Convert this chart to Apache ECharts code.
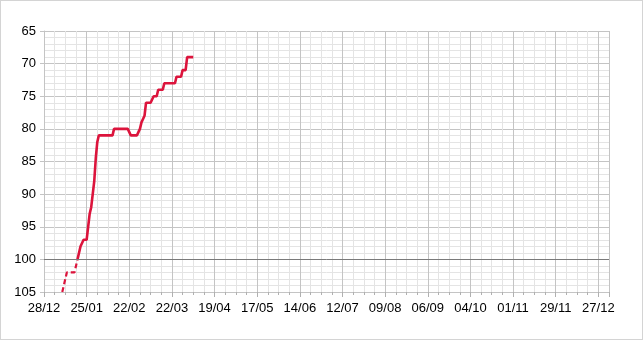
<!DOCTYPE html>
<html>
<head>
<meta charset="utf-8">
<script src="https://cdn.jsdelivr.net/npm/echarts@6/dist/echarts.min.js"></script>
<style>
html,body{margin:0;padding:0;background:#fff;}
#c{width:643px;height:340px;box-sizing:border-box;border:1px solid #d4d4d4;}
</style>
</head>
<body>
<div id="c"></div>
<script>
// Base date of the x axis (day 0) and tick settings
var baseDate = '2014-12-28';
var xTickDays = 28;
var xMaxDays = 371;
var yTicks = [65, 70, 75, 80, 85, 90, 95, 100, 105];
var refLine = 100;

// Dashed (early) segment
var dashedDates = ['2015-01-09','2015-01-10','2015-01-12','2015-01-17','2015-01-19'];
var dashedValues = [105, 104, 102, 102, 100];

// Solid segment
var solidDates = ['2015-01-19','2015-01-21','2015-01-22','2015-01-23','2015-01-25','2015-01-26','2015-01-27',
  '2015-01-28','2015-01-29','2015-01-30','2015-01-31','2015-02-01','2015-02-02','2015-02-11','2015-02-12',
  '2015-02-21','2015-02-23','2015-02-27','2015-03-01','2015-03-02','2015-03-04','2015-03-05','2015-03-08',
  '2015-03-10','2015-03-12','2015-03-13','2015-03-16','2015-03-17','2015-03-24','2015-03-25','2015-03-28',
  '2015-03-29','2015-03-31','2015-04-01','2015-04-05'];
var solidValues = [100, 98, 98, 97, 97, 95, 93, 92, 90, 88, 84.5, 82, 81, 81, 80,
  80, 81, 81, 80, 79, 78, 76, 76, 75, 75, 74, 74, 73, 73, 72, 72, 71, 71, 69, 69];

function dayOf(s){ return Math.round((Date.parse(s) - Date.parse(baseDate)) / 86400000); }
function pairs(d, v){ return d.map(function(s, i){ return [dayOf(s), v[i]]; }); }
function pad(n){ return (n < 10 ? '0' : '') + n; }
function fmt(days){
  var t = new Date(Date.parse(baseDate) + days * 86400000);
  return pad(t.getUTCDate()) + '/' + pad(t.getUTCMonth() + 1);
}

var font = 'Liberation Sans, Arial, sans-serif';
var major = '#c4c4c4', minor = '#e4e4e4';
var chart = echarts.init(document.getElementById('c'), null, {renderer: 'canvas'});
chart.setOption({
  animation: false,
  grid: {left: 43, right: 33, top: 30, bottom: 47},
  xAxis: {
    type: 'value', min: 0, max: xMaxDays, interval: xTickDays,
    axisLine: {show: true, lineStyle: {color: major}},
    axisTick: {show: true, length: 5, lineStyle: {color: '#b0b0b0'}},
    minorTick: {show: true, splitNumber: 4, length: 3, lineStyle: {color: '#b0b0b0'}},
    splitLine: {show: true, lineStyle: {color: major}},
    minorSplitLine: {show: true, lineStyle: {color: minor}},
    axisLabel: {color: '#000', fontFamily: font, fontSize: 13, margin: 10, showMaxLabel: false,
      formatter: function(v){ return fmt(v); }}
  },
  yAxis: {
    type: 'value', inverse: true, min: yTicks[0], max: yTicks[yTicks.length - 1], interval: yTicks[1] - yTicks[0],
    axisLine: {show: true, lineStyle: {color: major}},
    axisTick: {show: true, length: 4, lineStyle: {color: major}},
    minorTick: {show: false},
    splitLine: {show: true, lineStyle: {color: major}},
    minorSplitLine: {show: true, lineStyle: {color: minor}},
    axisLabel: {color: '#000', fontFamily: font, fontSize: 13, margin: 8}
  },
  series: [
    {
      type: 'line', data: pairs(dashedDates, dashedValues), showSymbol: false, symbol: 'none',
      lineStyle: {color: '#dc143c', width: 2.2, type: [5, 3]}
    },
    {
      type: 'line', data: pairs(solidDates, solidValues), showSymbol: false, symbol: 'none',
      lineStyle: {color: '#dc143c', width: 2.6},
      markLine: {silent: true, symbol: 'none', label: {show: false},
        lineStyle: {color: '#7a7a7a', width: 1, type: 'solid'},
        data: [{yAxis: refLine}]}
    }
  ]
});
</script>
</body>
</html>
